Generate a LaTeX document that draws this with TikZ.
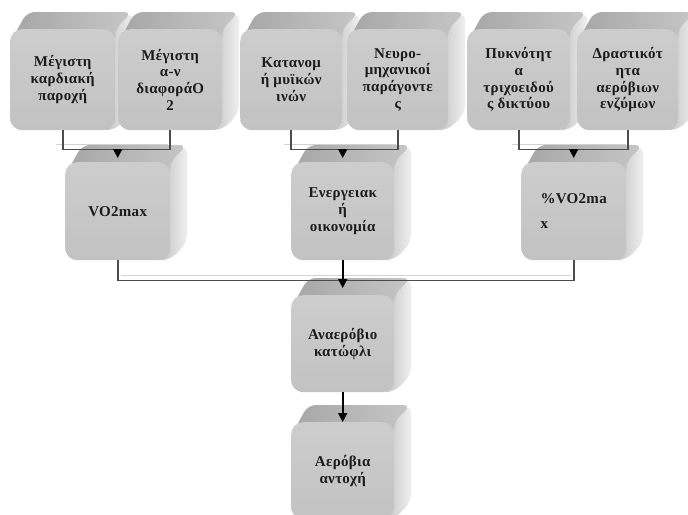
\documentclass[tikz,border=0pt]{standalone}
\usepackage{fontspec}
\setmainfont[LetterSpace=2]{Liberation Serif}
\usetikzlibrary{arrows.meta,calc}
\definecolor{frontT}{HTML}{CDCDCD}
\definecolor{frontB}{HTML}{C2C2C2}
\definecolor{topL}{HTML}{A6A6A6}
\definecolor{topR}{HTML}{C6C6C6}
\definecolor{sideL}{HTML}{BDBDBD}
\definecolor{sideR}{HTML}{EFEFEF}
\definecolor{textc}{HTML}{1C1C1C}
\definecolor{connc}{HTML}{4C4C4C}
\definecolor{shadowc}{HTML}{D2D2D2}
\tikzset{
  front/.style={rounded corners=12pt, top color=frontT, bottom color=frontB, draw=none,
    inner sep=0pt, align=center, text=textc,
    font=\fontsize{15}{16.7}\selectfont\bfseries},
  conn/.style={draw=connc, line width=1.6pt},
  shadowline/.style={draw=shadowc, line width=1pt},
  arr/.style={draw=black, line width=1.6pt, -{Triangle[width=9pt,length=9pt]}},
}
\newcommand\cubebox[7][]{%
  \shade[rounded corners=8pt, left color=sideL, right color=sideR]
    ({#3+#5-14},{#4}) -- ({#3+#5+17},{#4-17}) -- ({#3+#5+17},{#4+#6-17})
    -- ({#3+#5},{#4+#6}) -- ({#3+#5-14},{#4+#6}) -- cycle;
  \shade[rounded corners=8pt, left color=topL, right color=topR]
    ({#3},{#4+14}) -- ({#3+17},{#4-17}) -- ({#3+#5+17},{#4-17})
    -- ({#3+#5},{#4}) -- ({#3+#5},{#4+14}) -- cycle;
  \node[front, minimum width=#5pt, minimum height=#6pt, anchor=north west, #1] (#2) at (#3,#4) {#7};
}
\begin{document}
\begin{tikzpicture}[x=1pt, y=-1pt]
\fill[white] (0,0) rectangle (688,514);
\useasboundingbox (0,0) rectangle (688,514);
% top row
\cubebox{t1}{10}{29}{105}{101}{Μέγιστη\\καρδιακή\\παροχή}
\cubebox{t2}{118}{29}{104}{101}{Μέγιστη\\α-ν\\διαφοράΟ\\2}
\cubebox{t3}{240}{29}{102}{101}{Κατανομ\\ή μυϊκών\\ινών}
\cubebox{t4}{347}{29}{101}{101}{Νευρο-\\μηχανικοί\\παράγοντε\\ς}
\cubebox{t5}{467}{29}{103}{101}{Πυκνότητ\\α\\τριχοειδού\\ς δικτύου}
\cubebox{t6}{577}{29}{101}{101}{Δραστικότ\\ητα\\αερόβιων\\ενζύμων}
% middle row
\cubebox{m1}{65}{162}{105}{98}{VO2max}
\cubebox{m2}{291}{162}{103}{98}{Ενεργειακ\\ή\\οικονομία}
\cubebox[align=left, font=\fontsize{15}{25}\selectfont\bfseries]{m3}{521}{162}{105}{98}{\%VO2ma\\x}
% bottom column
\cubebox{b1}{291}{295}{103}{97}{Αναερόβιο\\κατώφλι}
\cubebox{b2}{291}{422}{103}{97}{Αερόβια\\αντοχή}
% top connectors
\foreach \a/\b/\m in {t1/t2/m1, t3/t4/m2, t5/t6/m3}{
  \coordinate (h\m) at ($(\a.south)+(0,19)$);
  \draw[shadowline] ($(\a.south)+(-7,14)$) -- ($(\b.south)+(-2,14)$);
  \draw[conn] (\a.south) -- (h\m) -- (h\m -| \b.south) -- (\b.south);
  \draw[arr, shorten >=4pt] (h\m -| \m.north) -- (\m.north);
}
% middle connectors
\coordinate (hb) at ($(m1.south)+(0,20)$);
\draw[shadowline] ($(m1.south)+(3,15)$) -- ($(m3.south)+(-3,15)$);
\draw[conn] (m1.south) -- (hb) -- (hb -| m3.south) -- (m3.south);
\draw[arr, shorten >=7pt] (m2.south) -- (b1.north);
\draw[arr] (b1.south) -- (b2.north);
\end{tikzpicture}
\end{document}
